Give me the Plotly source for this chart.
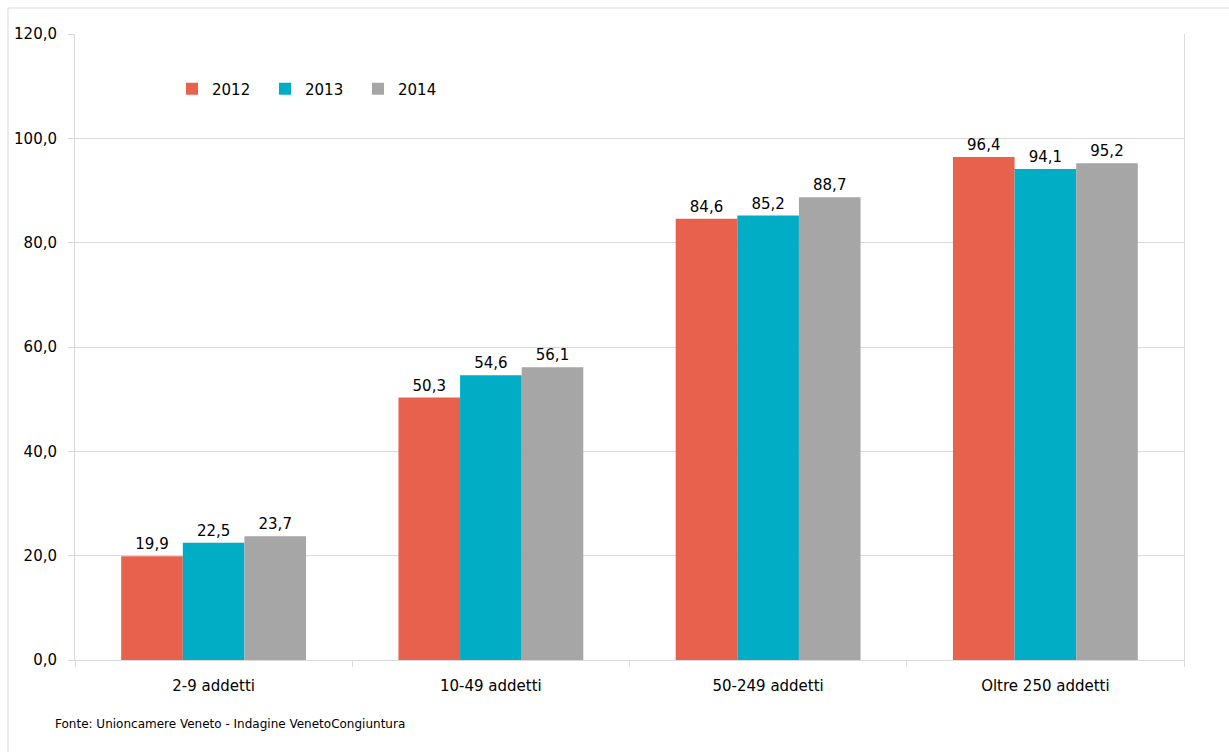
import plotly.graph_objects as go

# Classi dimensionali e quote per anno
categories = ["2-9 addetti", "10-49 addetti", "50-249 addetti", "Oltre 250 addetti"]
years = ["2012", "2013", "2014"]
values_2012 = [19.9, 50.3, 84.6, 96.4]
values_2013 = [22.5, 54.6, 85.2, 94.1]
values_2014 = [23.7, 56.1, 88.7, 95.2]
y_ticks = [0, 20, 40, 60, 80, 100, 120]

series = [values_2012, values_2013, values_2014]
colors = ["#E8614D", "#00ADC4", "#A6A6A6"]

FONT = "DejaVu Sans"
GRID = "#D9D9D9"

W, H = 1229, 752
L, R, T, B = 75, 45, 34, 92
pw, ph = W - L - R, H - T - B


def px_x(px):
    return (px - L) / pw


def px_y(py):
    return (H - B - py) / ph


def fmt(v):
    return f"{v:.1f}".replace(".", ",")


fig = go.Figure()
for name, vals, col in zip(years, series, colors):
    fig.add_trace(go.Bar(
        x=categories,
        y=vals,
        name=name,
        marker=dict(color=col, line=dict(width=0)),
        text=[fmt(v) for v in vals],
        textposition="outside",
        textfont=dict(family=FONT, size=15, color="#000000"),
        cliponaxis=False,
        hoverinfo="x+y+name",
    ))

fig.update_layout(
    width=W,
    height=H,
    margin=dict(l=L, r=R, t=T, b=B),
    paper_bgcolor="white",
    plot_bgcolor="white",
    barmode="group",
    bargap=1 / 3,
    bargroupgap=0,
    separators=",.",
    font=dict(family=FONT, size=15, color="#000000"),
    showlegend=True,
    legend=dict(
        orientation="h",
        x=px_x(172),
        y=px_y(89),
        xanchor="left",
        yanchor="middle",
        entrywidth=48,
        entrywidthmode="pixels",
        font=dict(family=FONT, size=15, color="#000000"),
        bgcolor="rgba(0,0,0,0)",
        itemclick=False,
    ),
    xaxis=dict(
        type="category",
        showgrid=False,
        showline=True,
        linecolor=GRID,
        linewidth=1,
        ticks="outside",
        tickson="boundaries",
        ticklen=6,
        tickcolor=GRID,
        ticklabelstandoff=12,
        tickfont=dict(family=FONT, size=15, color="#000000"),
    ),
    yaxis=dict(
        range=[0, 120],
        tickvals=y_ticks,
        ticktext=[fmt(v) for v in y_ticks],
        showgrid=True,
        gridcolor=GRID,
        gridwidth=1,
        zeroline=False,
        showline=True,
        linecolor=GRID,
        linewidth=1,
        mirror=True,
        ticks="outside",
        ticklen=6,
        tickcolor=GRID,
        ticklabelstandoff=8,
        tickfont=dict(family=FONT, size=15, color="#000000"),
    ),
    shapes=[
        dict(
            type="rect",
            xref="paper", yref="paper",
            x0=px_x(8), x1=px_x(1260),
            y0=px_y(790), y1=px_y(8),
            line=dict(color=GRID, width=1),
            fillcolor="rgba(0,0,0,0)",
            layer="below",
        )
    ],
    annotations=[
        dict(
            text="Fonte: Unioncamere Veneto - Indagine VenetoCongiuntura",
            xref="paper", yref="paper",
            x=px_x(53), y=px_y(724),
            xanchor="left", yanchor="middle",
            showarrow=False,
            font=dict(family=FONT, size=12, color="#000000"),
        )
    ],
)

fig.write_html("out.html")
